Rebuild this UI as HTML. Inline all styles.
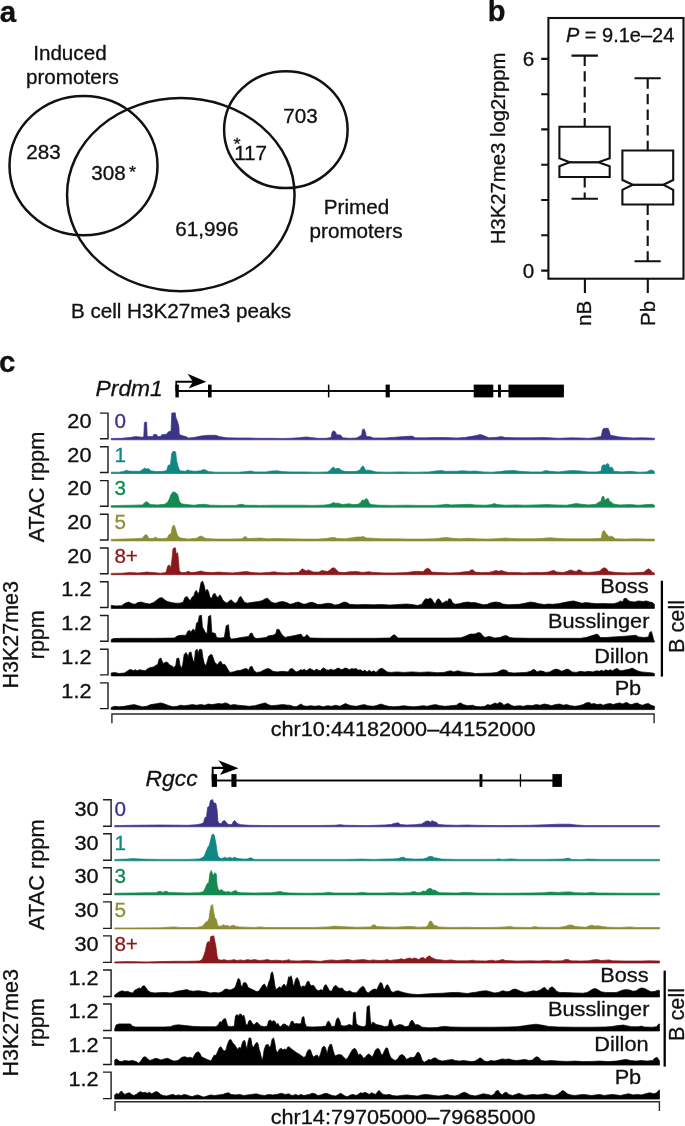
<!DOCTYPE html>
<html lang="en"><head><meta charset="utf-8"><title>Figure</title>
<style>
html,body{margin:0;padding:0;background:#fff;}
svg{display:block;font-family:"Liberation Sans",Arial,Helvetica,sans-serif;}
</style></head><body>
<svg width="685" height="1126" viewBox="0 0 685 1126">
<rect width="685" height="1126" fill="#fff"/>
<g style="opacity:0.999">
<text transform="translate(-0.20,21.50) scale(1.0,1)" text-anchor="start" font-size="29.5" font-weight="bold" font-style="normal" fill="#111" stroke="#111" stroke-width="0.3">a</text>
<text transform="translate(487.80,21.00) scale(1.0,1)" text-anchor="start" font-size="29" font-weight="bold" font-style="normal" fill="#111" stroke="#111" stroke-width="0.3">b</text>
<text transform="translate(-1.00,372.00) scale(1.0,1)" text-anchor="start" font-size="29.5" font-weight="bold" font-style="normal" fill="#111" stroke="#111" stroke-width="0.3">c</text>
<g fill="none" stroke="#111" stroke-width="2.5">
<ellipse cx="83.5" cy="165.65" rx="74.0" ry="69.65"/>
<ellipse cx="180.8" cy="194.65" rx="113.75" ry="96.55"/>
<ellipse cx="285.85" cy="129.7" rx="61.75" ry="58.4"/>
</g>
<text transform="translate(69.90,60.20) scale(1.07,1)" text-anchor="middle" font-size="19.3" font-weight="normal" font-style="normal" fill="#111" stroke="#111" stroke-width="0.3">Induced</text>
<text transform="translate(72.40,84.00) scale(1.07,1)" text-anchor="middle" font-size="19.3" font-weight="normal" font-style="normal" fill="#111" stroke="#111" stroke-width="0.3">promoters</text>
<text transform="translate(43.40,159.40) scale(1.07,1)" text-anchor="middle" font-size="19.3" font-weight="normal" font-style="normal" fill="#111" stroke="#111" stroke-width="0.3">283</text>
<text transform="translate(108.40,179.80) scale(1.07,1)" text-anchor="middle" font-size="19.3" font-weight="normal" font-style="normal" fill="#111" stroke="#111" stroke-width="0.3">308</text>
<text transform="translate(132.60,177.60) scale(1.07,1)" text-anchor="middle" font-size="17" font-weight="normal" font-style="normal" fill="#111" stroke="#111" stroke-width="0.3">*</text>
<text transform="translate(300.40,122.80) scale(1.07,1)" text-anchor="middle" font-size="19.3" font-weight="normal" font-style="normal" fill="#111" stroke="#111" stroke-width="0.3">703</text>
<text transform="translate(250.60,159.80) scale(1.07,1)" text-anchor="middle" font-size="19.3" font-weight="normal" font-style="normal" fill="#111" stroke="#111" stroke-width="0.3">117</text>
<text transform="translate(237.00,149.60) scale(1.07,1)" text-anchor="middle" font-size="17" font-weight="normal" font-style="normal" fill="#111" stroke="#111" stroke-width="0.3">*</text>
<text transform="translate(206.80,235.80) scale(1.07,1)" text-anchor="middle" font-size="19.3" font-weight="normal" font-style="normal" fill="#111" stroke="#111" stroke-width="0.3">61,996</text>
<text transform="translate(356.50,214.00) scale(1.07,1)" text-anchor="middle" font-size="19.3" font-weight="normal" font-style="normal" fill="#111" stroke="#111" stroke-width="0.3">Primed</text>
<text transform="translate(356.00,238.30) scale(1.07,1)" text-anchor="middle" font-size="19.3" font-weight="normal" font-style="normal" fill="#111" stroke="#111" stroke-width="0.3">promoters</text>
<text transform="translate(181.00,317.60) scale(1.07,1)" text-anchor="middle" font-size="19.3" font-weight="normal" font-style="normal" fill="#111" stroke="#111" stroke-width="0.3">B cell H3K27me3 peaks</text>
<g fill="none" stroke="#111" stroke-width="2.1">
<rect x="548.4" y="18.0" width="135.1" height="260.7"/>
<path d="M548.4 270.6H541.2 M548.4 235.3H541.2 M548.4 200.0H541.2 M548.4 164.7H541.2 M548.4 129.4H541.2 M548.4 94.2H541.2 M548.4 58.9H541.2 M584.9 278.7V293.0 M647.8 278.7V293.0"/>
<path d="M559.4 126.8H609.7V158.2L598.3 162.3L609.7 166.2V177H559.4V166.2L569.7 162.3L559.4 158.2Z"/>
<path d="M569.7 162.3H598.3" stroke-width="2.3"/>
<path d="M571.5 55.6H597.9 M571.5 198.8H597.9"/>
<path d="M584.7 55.6V126.8 M584.7 177V198.8" stroke-dasharray="10.4 5.2"/>
<path d="M622.4 150.5H673.2V180L663.3 184.8L673.2 189.8V204.5H622.4V189.8L632.8 184.8L622.4 180Z"/>
<path d="M632.8 184.8H663.3" stroke-width="2.3"/>
<path d="M634.5 78.3H660.7 M634.5 261.3H660.7"/>
<path d="M647.7 78.3V150.5 M647.7 204.5V261.3" stroke-dasharray="10.4 5.2"/>
</g>
<text transform="translate(534.20,65.60) scale(1.07,1)" text-anchor="end" font-size="19.3" font-weight="normal" font-style="normal" fill="#111" stroke="#111" stroke-width="0.3">6</text>
<text transform="translate(534.20,277.60) scale(1.07,1)" text-anchor="end" font-size="19.3" font-weight="normal" font-style="normal" fill="#111" stroke="#111" stroke-width="0.3">0</text>
<text transform="translate(566.00,42.20) scale(1.03576,1)" text-anchor="start" font-size="19.3" font-weight="normal" font-style="normal" fill="#111" stroke="#111" stroke-width="0.3"><tspan font-style="italic">P</tspan> = 9.1e–24</text>
<text transform="translate(505.40,148.40) rotate(-90) scale(1.05288,1)" text-anchor="middle" font-size="19.3" font-weight="normal" font-style="normal" fill="#111" stroke="#111" stroke-width="0.3">H3K27me3 log2rppm</text>
<text transform="translate(590.60,300.80) rotate(-90) scale(1.07,1)" text-anchor="end" font-size="19.3" font-weight="normal" font-style="normal" fill="#111" stroke="#111" stroke-width="0.3">nB</text>
<text transform="translate(654.70,300.80) rotate(-90) scale(1.07,1)" text-anchor="end" font-size="19.3" font-weight="normal" font-style="normal" fill="#111" stroke="#111" stroke-width="0.3">Pb</text>
<path d="M99.9 413.1H108.0V438.8H99.9" fill="none" stroke="#1a1a1a" stroke-width="1.4"/>
<text transform="translate(91.50,427.80) scale(1.125,1)" text-anchor="end" font-size="19.3" font-weight="normal" font-style="normal" fill="#111" stroke="#111" stroke-width="0.3">20</text>
<text transform="translate(114.40,427.80) scale(1.07,1)" text-anchor="start" font-size="19.3" font-weight="normal" font-style="normal" fill="#3b3486" stroke="#3b3486" stroke-width="0.3">0</text>
<path d="M111.2 439.8L111.2 438.5L121.6 438.3L130.0 437.5L135.5 436.6L142.4 437.2L143.8 436.4L144.4 422.5L146.6 421.9L147.2 436.4L152.7 436.6L153.8 434.4L156.6 434.4L157.7 436.6L160.5 436.4L161.9 434.7L166.6 434.2L168.2 431.9L171.0 431.1L171.8 413.1L175.2 412.8L176.0 417.8L177.7 421.9L178.8 426.1L179.3 434.4L182.7 435.8L186.0 436.6L188.2 438.0L193.8 437.5L200.7 436.1L207.6 435.3L215.9 435.3L219.3 436.6L227.0 437.8L238.1 438.0L249.2 438.0L260.3 438.3L271.4 438.3L282.5 438.5L290.0 438.3L298.3 437.8L306.6 436.9L310.8 437.5L317.7 438.3L326.1 438.3L331.1 437.5L332.2 431.9L333.8 430.8L335.5 431.9L336.6 434.7L340.5 435.0L342.7 437.8L349.6 438.3L356.6 438.0L359.3 436.4L361.6 435.3L362.4 429.7L364.1 428.9L365.4 431.9L366.3 436.4L369.1 436.6L371.0 436.9L373.2 438.0L384.3 438.0L395.4 437.2L403.7 436.6L412.0 436.1L415.4 437.8L425.9 437.8L434.2 437.5L445.3 437.5L456.4 438.0L464.7 437.5L473.1 436.1L475.0 435.8L480.6 434.4L484.7 436.1L488.9 437.8L497.2 437.2L501.4 436.6L505.5 437.5L516.6 437.8L530.5 437.8L544.3 437.5L558.2 438.3L572.1 437.8L580.4 438.0L588.7 438.3L594.3 437.8L598.4 436.9L601.2 436.4L602.6 429.7L604.0 428.3L608.1 428.3L609.5 431.7L610.4 435.3L613.7 435.8L619.2 436.9L626.2 437.5L633.1 438.0L641.4 437.8L649.7 438.0L654.4 438.3L654.4 439.8Z" fill="#3b3486" stroke="#3b3486" stroke-width="0.7" stroke-linejoin="round"/>
<path d="M99.9 446.8H108.0V472.5H99.9" fill="none" stroke="#1a1a1a" stroke-width="1.4"/>
<text transform="translate(91.50,461.53) scale(1.125,1)" text-anchor="end" font-size="19.3" font-weight="normal" font-style="normal" fill="#111" stroke="#111" stroke-width="0.3">20</text>
<text transform="translate(114.40,461.53) scale(1.07,1)" text-anchor="start" font-size="19.3" font-weight="normal" font-style="normal" fill="#0f8784" stroke="#0f8784" stroke-width="0.3">1</text>
<path d="M111.2 473.5L111.2 472.2L118.9 472.2L124.4 471.3L126.1 470.2L128.6 471.0L132.7 471.3L139.7 471.3L142.4 469.7L144.7 468.0L146.6 469.1L148.6 468.5L150.8 470.8L156.3 471.6L163.2 471.3L166.6 470.5L168.2 465.2L170.5 464.7L171.6 453.8L173.2 451.1L175.7 451.9L176.6 460.8L178.2 466.9L179.9 470.8L185.4 471.3L187.7 469.9L189.9 470.8L195.2 471.3L200.7 470.8L203.5 469.4L206.2 470.2L208.2 471.6L215.9 472.2L227.0 472.2L238.1 472.2L246.5 471.6L250.6 471.0L254.8 471.9L265.9 471.9L271.4 471.0L277.0 470.8L282.5 471.6L290.0 471.9L303.9 471.9L317.7 472.2L327.4 471.9L330.2 470.2L331.6 468.5L333.0 466.9L334.4 468.0L335.8 469.1L337.1 468.3L339.4 468.5L341.0 470.2L344.1 471.3L349.6 471.6L356.6 471.3L359.9 469.9L361.6 466.9L362.9 465.8L364.3 467.4L365.4 470.2L369.1 470.2L371.8 470.8L376.0 471.9L387.1 472.2L400.9 471.9L414.8 472.2L428.7 471.9L435.6 471.0L441.2 470.5L445.3 471.3L456.4 471.3L462.0 470.8L470.3 471.3L475.0 471.0L483.3 471.9L491.6 472.2L500.0 471.6L505.5 470.8L513.8 470.5L519.4 471.3L530.5 471.9L541.6 471.9L545.7 470.5L549.9 471.3L558.2 471.9L566.5 471.0L572.1 470.5L580.4 471.0L588.7 471.9L597.0 471.9L601.2 471.0L602.0 465.8L604.0 464.7L605.9 465.2L607.0 463.6L608.7 464.1L609.5 468.0L611.5 466.9L612.9 468.5L613.7 471.3L622.0 471.9L630.3 471.3L638.6 472.2L647.0 471.9L649.2 470.5L651.4 469.9L653.9 471.0L654.4 472.2L654.4 473.5Z" fill="#0f8784" stroke="#0f8784" stroke-width="0.7" stroke-linejoin="round"/>
<path d="M99.9 480.6H108.0V506.3H99.9" fill="none" stroke="#1a1a1a" stroke-width="1.4"/>
<text transform="translate(91.50,495.26) scale(1.125,1)" text-anchor="end" font-size="19.3" font-weight="normal" font-style="normal" fill="#111" stroke="#111" stroke-width="0.3">20</text>
<text transform="translate(114.40,495.26) scale(1.07,1)" text-anchor="start" font-size="19.3" font-weight="normal" font-style="normal" fill="#138a50" stroke="#138a50" stroke-width="0.3">3</text>
<path d="M111.2 507.2L111.2 505.7L121.6 505.4L132.7 505.2L142.4 504.9L144.7 502.7L146.6 501.6L148.6 502.9L150.2 504.6L157.7 504.9L164.6 504.3L167.4 502.4L169.3 499.1L171.0 494.6L173.2 491.8L176.0 492.9L177.7 494.6L179.3 501.0L181.3 503.8L186.8 504.6L193.8 505.2L199.3 504.6L204.8 504.3L210.4 505.2L221.5 505.4L235.4 505.4L239.5 504.6L242.3 504.3L245.1 505.2L260.3 505.4L277.0 505.2L290.0 505.2L301.1 505.2L312.2 505.4L323.3 505.2L328.8 504.6L331.1 503.8L333.8 502.4L335.8 503.5L337.7 502.9L339.9 503.8L342.7 504.6L346.9 504.0L349.6 503.8L352.4 504.6L358.0 504.3L360.7 502.4L362.7 499.6L364.1 501.0L365.7 498.5L367.7 499.6L369.1 502.9L371.0 504.6L378.8 505.2L392.6 505.4L406.5 505.2L420.4 505.4L434.2 505.4L441.2 504.9L446.7 504.3L450.9 504.9L462.0 504.6L470.3 504.3L475.0 504.9L486.1 505.2L491.6 504.6L494.4 503.5L497.2 504.6L505.5 505.2L516.6 504.9L524.9 505.2L536.0 504.9L547.1 504.6L555.4 504.9L566.5 505.2L572.1 504.3L576.2 503.5L581.8 504.3L588.7 504.9L595.7 504.3L598.4 502.4L601.2 501.0L602.0 496.8L603.7 496.3L604.8 500.2L606.5 499.1L608.1 497.9L609.5 501.0L611.5 502.4L613.7 504.0L619.2 504.9L630.3 504.6L638.6 505.2L647.0 504.6L652.5 504.3L654.4 505.2L654.4 507.2Z" fill="#138a50" stroke="#138a50" stroke-width="0.7" stroke-linejoin="round"/>
<path d="M99.9 514.3H108.0V540.0H99.9" fill="none" stroke="#1a1a1a" stroke-width="1.4"/>
<text transform="translate(91.50,528.99) scale(1.125,1)" text-anchor="end" font-size="19.3" font-weight="normal" font-style="normal" fill="#111" stroke="#111" stroke-width="0.3">20</text>
<text transform="translate(114.40,528.99) scale(1.07,1)" text-anchor="start" font-size="19.3" font-weight="normal" font-style="normal" fill="#8d8d36" stroke="#8d8d36" stroke-width="0.3">5</text>
<path d="M111.2 540.9L111.2 539.4L121.6 539.1L132.7 538.8L142.4 538.3L144.4 535.5L146.1 534.4L147.7 536.0L148.8 538.5L153.5 538.3L155.5 537.1L157.2 538.3L161.9 538.8L167.4 538.0L168.8 534.9L171.0 533.8L172.4 526.6L174.1 524.9L175.4 528.3L176.6 532.7L177.9 536.0L179.9 537.7L182.7 538.3L188.2 539.1L196.5 538.3L199.3 536.6L201.5 536.0L203.7 537.4L206.2 538.5L215.9 539.1L229.8 539.1L242.3 538.8L244.2 536.9L245.9 536.6L247.6 538.5L254.8 538.3L260.3 538.0L267.3 538.8L277.0 538.5L285.3 538.8L290.0 538.8L303.9 539.1L317.7 539.1L326.1 538.5L330.2 537.7L334.4 537.4L337.1 538.5L345.5 538.8L352.4 537.7L356.6 537.1L360.7 536.9L363.5 536.6L366.3 538.0L373.2 538.3L381.5 538.8L395.4 538.8L409.3 539.1L423.1 539.1L434.2 538.8L441.2 538.0L446.7 537.4L452.3 538.3L459.2 538.8L467.5 538.3L473.1 538.5L475.0 538.8L488.9 539.1L500.0 538.5L505.5 538.0L511.1 538.5L522.1 538.8L533.2 538.8L543.0 538.3L549.9 537.7L556.8 538.3L566.5 538.8L580.4 538.8L591.5 538.8L601.2 538.3L602.6 531.6L604.3 530.5L605.9 533.3L607.6 534.9L609.0 537.1L610.9 536.0L613.1 537.1L615.1 538.8L624.8 539.1L635.9 538.8L647.0 539.1L654.4 539.1L654.4 540.9Z" fill="#8d8d36" stroke="#8d8d36" stroke-width="0.7" stroke-linejoin="round"/>
<path d="M99.9 548.0H108.0V573.7H99.9" fill="none" stroke="#1a1a1a" stroke-width="1.4"/>
<text transform="translate(91.50,562.72) scale(1.125,1)" text-anchor="end" font-size="19.3" font-weight="normal" font-style="normal" fill="#111" stroke="#111" stroke-width="0.3">20</text>
<text transform="translate(114.40,562.72) scale(1.07,1)" text-anchor="start" font-size="19.3" font-weight="normal" font-style="normal" fill="#8a191d" stroke="#8a191d" stroke-width="0.3">8+</text>
<path d="M111.2 574.7L111.2 573.4L121.6 573.2L130.0 572.6L138.3 572.9L146.6 572.1L153.5 572.6L160.5 573.2L166.0 572.6L167.7 566.0L169.3 564.9L170.7 567.9L171.8 561.0L173.0 548.5L175.4 547.7L176.3 554.1L177.7 552.7L178.5 561.0L179.3 570.7L181.3 572.6L185.4 572.4L188.2 571.3L191.0 572.6L196.5 572.1L200.7 571.0L204.8 572.1L211.8 572.6L218.7 572.1L224.3 572.4L232.6 572.9L240.9 572.1L246.5 571.5L252.0 572.6L260.3 572.9L268.6 572.4L274.2 571.8L278.4 572.6L288.1 572.9L290.0 572.6L298.3 572.6L300.5 570.4L302.5 568.8L304.4 569.9L306.1 571.0L308.0 569.9L310.8 571.0L313.6 572.1L319.1 572.1L321.9 570.4L324.7 571.0L327.4 571.5L330.2 569.9L332.2 567.9L334.4 567.9L336.6 569.9L338.5 572.1L344.1 572.6L349.6 571.8L356.6 571.5L362.1 572.4L369.1 571.8L373.2 572.4L384.3 572.9L395.4 572.9L406.5 572.6L412.0 571.8L417.6 571.3L423.1 571.8L425.4 569.3L427.6 568.2L429.8 569.3L431.5 572.1L439.8 572.6L450.9 572.9L459.2 572.6L464.7 571.8L468.9 571.5L470.9 569.9L473.1 569.9L475.0 572.1L480.6 572.6L488.9 572.4L493.0 571.5L495.8 570.4L498.6 571.3L501.4 570.4L504.1 571.5L508.3 572.6L516.6 572.6L524.9 572.9L533.2 572.4L541.6 572.6L548.5 572.1L551.3 571.0L554.0 570.4L556.8 572.1L563.8 572.4L567.9 571.0L570.7 569.9L573.5 571.0L576.2 571.5L578.2 569.9L580.4 569.9L582.6 572.1L588.7 572.4L595.7 571.8L599.8 571.0L602.0 568.8L604.3 567.7L606.5 568.8L608.7 571.5L616.5 572.6L627.5 572.9L638.6 572.6L644.2 572.1L646.4 569.9L648.6 568.8L650.9 570.4L652.5 572.6L654.4 572.9L654.4 574.7Z" fill="#8a191d" stroke="#8a191d" stroke-width="0.7" stroke-linejoin="round"/>
<path d="M99.9 581.8H108.0V607.5H99.9" fill="none" stroke="#1a1a1a" stroke-width="1.4"/>
<text transform="translate(91.50,596.45) scale(1.125,1)" text-anchor="end" font-size="19.3" font-weight="normal" font-style="normal" fill="#111" stroke="#111" stroke-width="0.3">1.2</text>
<text transform="translate(648.60,593.20) scale(1.07,1)" text-anchor="end" font-size="20.3" font-weight="normal" font-style="normal" fill="#111" stroke="#111" stroke-width="0.3">Boss</text>
<path d="M111.2 608.4L111.2 605.4L116.1 605.9L121.6 605.7L125.0 603.2L128.6 602.0L132.2 603.7L135.0 604.3L137.7 602.6L141.1 602.0L145.2 603.2L149.4 604.0L153.5 602.6L156.3 600.4L159.1 598.2L161.9 597.6L164.6 599.8L167.4 601.5L171.6 602.6L175.7 603.2L179.9 603.2L183.2 602.0L184.9 597.6L187.1 596.5L188.8 599.3L190.4 600.4L192.1 597.1L193.8 595.9L195.2 591.5L196.5 590.4L197.9 594.3L199.3 591.5L201.0 582.6L202.6 581.0L204.3 586.0L205.4 591.5L207.1 589.3L208.5 591.5L209.8 596.5L211.5 598.7L213.2 594.3L214.8 593.2L216.5 596.5L218.2 597.6L219.8 594.8L221.2 596.5L222.6 599.8L224.8 602.0L227.0 603.2L229.3 600.9L231.2 599.8L233.2 602.0L235.4 603.2L237.6 601.5L239.2 597.6L240.9 596.5L242.6 599.3L244.2 602.0L247.0 603.2L250.6 602.6L254.8 602.0L258.9 601.5L262.6 600.4L265.3 598.7L267.5 598.2L269.8 600.4L272.0 602.6L275.6 603.2L279.2 602.0L282.5 601.5L286.7 602.6L290.0 604.3L292.8 603.7L295.6 602.6L298.3 602.0L301.1 603.2L303.9 604.3L306.6 603.7L309.4 602.6L312.2 602.3L315.0 603.2L317.7 604.5L321.9 604.3L324.7 603.7L328.3 603.2L331.6 603.7L334.4 605.1L338.5 604.5L341.3 603.2L344.1 602.0L346.9 602.6L349.6 604.3L356.6 604.8L364.9 604.5L373.2 604.8L381.5 604.5L389.9 605.1L398.2 604.5L406.5 604.0L412.0 604.5L417.6 605.4L421.8 604.3L424.0 600.4L425.9 598.7L428.1 599.3L430.1 598.2L432.0 599.3L433.7 602.6L435.3 603.7L437.0 599.8L438.7 598.7L440.3 600.4L442.0 603.2L443.9 602.6L445.9 600.9L447.6 601.5L448.9 598.7L450.9 599.3L452.5 602.6L455.0 604.3L459.2 603.7L463.4 602.6L467.5 602.0L471.7 602.6L475.0 602.6L479.2 603.7L483.3 604.8L487.5 604.3L491.6 602.6L495.8 602.0L500.0 602.6L502.7 604.0L508.3 604.8L513.8 604.5L519.4 604.3L524.9 603.2L530.5 602.0L534.6 602.6L538.8 603.7L544.3 604.5L548.5 604.0L552.7 604.3L558.2 603.7L563.8 602.6L569.3 601.5L573.5 600.9L577.6 602.0L581.8 603.2L586.0 602.6L591.5 603.2L597.0 603.7L602.6 603.4L608.1 603.7L613.7 603.7L617.9 602.6L620.6 600.9L622.6 602.0L624.0 598.7L626.2 598.2L628.1 600.4L630.3 601.5L634.5 602.0L638.6 600.9L642.8 601.5L646.4 600.9L649.7 602.0L652.5 602.6L654.4 604.3L654.4 608.4Z" fill="#000" stroke="#000" stroke-width="0.7" stroke-linejoin="round"/>
<path d="M99.9 615.5H108.0V641.2H99.9" fill="none" stroke="#1a1a1a" stroke-width="1.4"/>
<text transform="translate(91.50,630.18) scale(1.125,1)" text-anchor="end" font-size="19.3" font-weight="normal" font-style="normal" fill="#111" stroke="#111" stroke-width="0.3">1.2</text>
<text transform="translate(649.40,627.80) scale(1.07,1)" text-anchor="end" font-size="20.3" font-weight="normal" font-style="normal" fill="#111" stroke="#111" stroke-width="0.3">Busslinger</text>
<path d="M111.2 642.1L111.2 639.7L113.3 638.6L121.6 638.3L138.3 638.3L154.9 638.3L174.3 638.0L177.7 635.8L181.3 635.3L186.0 635.3L187.7 631.4L189.6 630.3L191.0 632.5L192.4 629.7L193.8 629.2L195.2 631.9L196.5 623.1L198.2 621.9L199.3 615.8L201.5 615.3L202.4 626.9L203.7 629.2L205.4 632.5L207.1 633.6L208.5 616.4L210.7 615.3L211.8 632.5L213.7 633.0L215.4 633.6L216.5 637.5L220.1 638.0L224.3 637.5L226.2 625.8L228.4 624.7L229.8 636.9L231.2 639.1L235.4 638.6L240.9 637.5L245.1 636.9L248.7 636.4L250.1 633.6L252.0 633.0L253.7 636.9L256.2 638.6L261.7 638.0L265.9 637.5L268.6 635.8L272.8 635.3L275.6 634.1L277.0 629.2L279.2 629.7L280.9 633.0L282.5 635.3L285.3 637.5L288.6 636.4L290.0 636.4L295.6 635.3L301.1 634.1L302.8 636.9L305.0 636.9L306.6 634.7L308.3 635.8L310.0 638.0L323.3 638.3L345.5 638.3L373.2 638.3L389.9 638.0L392.1 635.8L394.3 634.7L396.5 636.4L398.2 638.0L414.8 638.0L434.2 638.0L450.9 638.0L460.6 637.8L464.7 636.4L470.3 634.1L475.0 634.1L478.3 632.5L480.6 633.0L482.8 635.8L485.0 637.5L488.9 636.4L491.6 636.9L494.4 638.0L500.0 637.5L504.1 635.8L506.9 635.8L509.7 637.5L513.8 638.0L530.5 638.3L558.2 638.3L580.4 638.3L586.0 637.5L591.5 635.8L597.0 634.1L598.7 635.3L600.4 637.5L605.4 637.5L613.7 636.9L622.0 636.4L630.3 635.8L635.9 635.3L638.6 636.9L644.2 637.5L648.4 636.9L649.7 632.5L651.4 631.4L652.5 635.3L653.9 640.8L654.4 640.9L654.4 642.1Z" fill="#000" stroke="#000" stroke-width="0.7" stroke-linejoin="round"/>
<path d="M99.9 649.2H108.0V674.9H99.9" fill="none" stroke="#1a1a1a" stroke-width="1.4"/>
<text transform="translate(91.50,663.91) scale(1.125,1)" text-anchor="end" font-size="19.3" font-weight="normal" font-style="normal" fill="#111" stroke="#111" stroke-width="0.3">1.2</text>
<text transform="translate(648.60,663.30) scale(1.07,1)" text-anchor="end" font-size="20.3" font-weight="normal" font-style="normal" fill="#111" stroke="#111" stroke-width="0.3">Dillon</text>
<path d="M111.2 675.9L111.2 673.0L114.7 672.4L118.9 673.5L124.4 673.0L127.2 671.3L129.4 669.7L131.6 669.7L133.3 670.8L135.0 669.7L137.2 670.8L139.4 669.7L142.2 670.2L145.2 670.8L148.0 668.5L150.8 667.4L153.5 666.9L155.8 665.2L157.7 664.7L159.1 659.1L161.0 658.0L162.4 661.9L163.8 663.6L165.5 661.9L167.7 662.4L169.3 664.7L171.6 665.8L173.8 667.4L175.7 665.8L176.8 658.6L178.8 658.0L179.9 664.7L181.3 668.5L182.7 664.7L184.1 654.7L186.0 652.5L187.4 654.7L188.2 657.4L189.3 652.5L191.0 651.9L192.1 656.9L193.2 660.8L194.3 661.9L195.4 650.8L197.1 649.1L198.2 654.7L198.8 650.8L199.9 649.1L201.8 649.7L202.9 657.4L204.3 663.6L206.0 665.8L207.3 661.3L208.7 656.3L210.4 654.7L212.1 654.7L213.2 658.0L214.6 661.9L215.9 663.6L217.6 664.7L219.3 661.9L220.9 661.3L222.6 664.7L224.3 664.1L225.9 665.8L227.6 669.1L229.8 672.4L233.2 671.9L236.8 670.8L240.9 670.2L243.7 669.1L246.5 668.5L248.7 670.2L250.1 666.9L252.0 666.3L253.7 670.2L256.2 672.4L260.3 671.9L264.5 669.7L267.3 668.5L270.0 669.1L272.8 671.3L277.0 671.9L282.5 671.3L288.1 671.9L290.0 669.1L292.2 668.5L294.2 670.2L296.1 671.9L298.3 671.3L300.5 669.7L302.5 670.2L304.4 669.1L306.1 670.8L308.0 669.7L310.0 668.5L312.2 669.7L314.4 670.8L316.4 669.1L318.3 670.2L320.5 670.8L322.2 668.5L323.8 668.0L326.1 669.7L328.8 670.2L331.1 669.1L333.0 670.2L334.9 669.7L337.1 668.5L338.8 668.0L341.0 669.7L343.3 669.1L344.9 668.0L347.1 668.5L349.4 669.7L351.6 668.5L353.8 669.1L356.0 668.5L358.2 670.2L360.4 669.7L362.7 671.3L364.9 670.2L367.1 671.9L369.3 670.2L371.6 671.9L373.8 670.8L376.0 672.4L378.2 670.2L380.4 668.5L382.6 668.5L384.9 670.2L387.1 671.9L391.2 672.4L396.8 671.9L403.7 672.4L412.0 671.9L420.4 672.4L428.7 671.9L437.0 672.7L443.9 672.4L448.1 671.3L450.9 670.8L453.6 671.9L457.8 670.8L462.0 671.9L467.5 672.4L473.1 673.0L475.0 673.5L483.3 673.3L491.6 673.0L497.2 672.4L500.0 670.8L502.7 669.7L506.1 670.2L508.8 672.4L513.8 673.0L519.4 672.7L526.3 672.4L530.5 671.3L532.7 669.7L534.9 669.7L537.1 671.9L540.2 670.8L543.0 671.3L545.7 672.4L549.9 671.9L552.7 670.2L556.0 669.1L558.8 669.7L561.5 671.3L564.3 670.2L567.1 669.1L569.9 670.2L572.1 671.9L576.2 672.4L580.4 671.3L584.6 671.9L588.7 671.3L592.9 671.9L596.5 670.8L599.3 671.3L601.5 670.2L603.7 671.3L605.9 669.7L608.1 670.8L610.4 669.7L612.6 670.8L615.1 669.1L617.3 668.5L619.2 670.2L622.0 670.8L626.2 669.7L629.8 669.1L632.0 668.0L634.2 669.1L637.3 670.8L641.4 671.9L647.0 672.4L652.5 673.0L654.4 673.5L654.4 675.9Z" fill="#000" stroke="#000" stroke-width="0.7" stroke-linejoin="round"/>
<path d="M99.9 682.9H108.0V708.6H99.9" fill="none" stroke="#1a1a1a" stroke-width="1.4"/>
<text transform="translate(91.50,697.64) scale(1.125,1)" text-anchor="end" font-size="19.3" font-weight="normal" font-style="normal" fill="#111" stroke="#111" stroke-width="0.3">1.2</text>
<text transform="translate(641.20,695.20) scale(1.07,1)" text-anchor="end" font-size="20.3" font-weight="normal" font-style="normal" fill="#111" stroke="#111" stroke-width="0.3">Pb</text>
<path d="M111.2 709.6L111.2 707.4L114.7 706.3L118.9 706.8L124.4 706.3L130.0 705.2L134.1 704.6L138.3 705.7L142.4 706.8L146.6 706.3L150.8 704.6L154.9 704.0L157.7 703.5L160.5 702.9L163.2 703.5L166.0 704.6L169.3 705.7L173.0 706.8L177.1 706.3L180.4 705.2L184.1 705.7L188.2 705.2L192.4 704.6L196.5 705.2L200.7 704.6L204.8 705.2L208.2 704.0L211.8 704.6L215.4 704.0L218.7 703.5L222.1 704.0L224.8 702.9L227.6 703.5L230.4 705.2L234.0 704.6L238.1 705.2L243.7 705.7L249.2 706.3L254.8 705.7L258.9 704.6L262.6 703.5L265.3 702.9L268.1 704.6L271.4 705.7L277.0 705.2L282.5 704.6L288.1 705.2L290.0 705.2L292.8 706.3L296.1 706.8L298.9 705.2L301.1 704.0L303.3 705.7L306.6 706.3L310.8 705.7L315.0 706.3L319.1 705.7L323.3 706.8L327.4 705.7L331.6 706.3L335.8 705.2L339.9 706.3L343.3 704.6L345.5 703.5L347.7 704.6L351.0 705.7L356.6 706.3L360.7 705.2L364.3 704.6L367.7 705.7L373.2 706.3L377.4 705.2L381.0 704.0L384.3 705.2L388.5 706.3L394.0 706.8L399.6 706.3L403.7 705.7L407.9 706.3L413.4 706.8L419.0 706.3L423.1 705.7L427.3 706.3L431.5 705.2L435.6 704.6L439.8 705.7L445.3 706.3L450.9 705.7L456.4 705.2L458.6 703.5L460.9 702.9L463.1 704.6L467.5 705.7L473.1 705.2L475.0 706.3L480.6 706.8L484.7 706.3L487.5 704.6L490.3 705.2L493.0 704.0L495.0 702.9L497.2 704.0L499.4 702.4L501.6 702.9L503.9 705.2L506.1 704.0L508.3 703.5L511.1 705.2L513.8 706.3L519.4 705.7L523.5 706.3L527.7 705.2L531.9 705.7L536.0 704.6L540.2 705.2L544.3 704.0L547.7 704.6L551.3 705.7L555.4 704.6L559.6 704.0L563.2 705.2L566.5 704.6L570.7 705.7L574.9 706.3L579.0 705.7L583.2 704.6L586.0 702.9L589.3 702.4L591.5 704.0L594.3 703.5L597.0 704.6L600.4 704.0L603.1 705.2L606.8 704.0L610.4 703.5L613.1 704.6L616.5 703.5L619.8 702.9L622.6 704.0L624.8 702.9L627.0 702.4L629.2 704.0L631.7 704.6L634.5 703.5L637.3 702.9L640.0 704.6L642.8 705.2L645.6 704.0L648.4 703.5L651.1 705.2L654.4 706.3L654.4 709.6Z" fill="#000" stroke="#000" stroke-width="0.7" stroke-linejoin="round"/>
<path d="M111.9 723.2V714.0H654.1V723.2" fill="none" stroke="#2a2a2a" stroke-width="1.4"/>
<text transform="translate(403.10,736.20) scale(1.121,1)" text-anchor="middle" font-size="19.3" font-weight="normal" font-style="normal" fill="#111" stroke="#111" stroke-width="0.3">chr10:44182000–44152000</text>
<text transform="translate(43.70,487.00) rotate(-90) scale(1,1)" text-anchor="middle" font-size="21.8" font-weight="normal" font-style="normal" fill="#111" stroke="#111" stroke-width="0.3">ATAC rppm</text>
<text transform="translate(17.90,634.80) rotate(-90) scale(1,1)" text-anchor="middle" font-size="21.5" font-weight="normal" font-style="normal" fill="#111" stroke="#111" stroke-width="0.3">H3K27me3</text>
<text transform="translate(43.60,634.80) rotate(-90) scale(1,1)" text-anchor="middle" font-size="21.5" font-weight="normal" font-style="normal" fill="#111" stroke="#111" stroke-width="0.3">rppm</text>
<path d="M661.9 580.7V676.6" stroke="#000" stroke-width="2.3" fill="none"/>
<text transform="translate(683.70,626.50) rotate(-90) scale(1,1)" text-anchor="middle" font-size="21.7" font-weight="normal" font-style="normal" fill="#111" stroke="#111" stroke-width="0.3">B cell</text>
<path d="M103.0 799.7H111.1V826.2H103.0" fill="none" stroke="#1a1a1a" stroke-width="1.4"/>
<text transform="translate(98.70,815.90) scale(1.125,1)" text-anchor="end" font-size="19.3" font-weight="normal" font-style="normal" fill="#111" stroke="#111" stroke-width="0.3">30</text>
<text transform="translate(114.40,815.90) scale(1.07,1)" text-anchor="start" font-size="19.3" font-weight="normal" font-style="normal" fill="#3b3486" stroke="#3b3486" stroke-width="0.3">0</text>
<path d="M114.7 826.8L114.7 825.6L132.7 825.3L160.5 825.0L188.2 825.3L196.5 824.7L200.7 823.9L203.5 822.8L204.8 817.8L206.5 816.7L207.6 807.3L209.3 806.2L210.4 800.6L212.6 799.5L213.7 802.8L215.9 803.4L217.1 810.0L217.9 821.1L219.3 823.4L221.5 823.4L222.9 821.1L224.8 820.6L226.5 822.8L228.4 824.5L232.0 824.5L233.2 821.7L234.8 820.6L236.5 822.8L238.1 823.9L240.9 824.7L249.2 825.3L271.4 825.6L290.0 825.6L312.2 825.6L334.4 825.3L339.9 824.7L345.5 825.3L367.7 825.6L384.3 825.0L391.2 824.5L394.0 823.4L398.2 822.8L400.4 824.5L406.5 825.0L414.8 824.7L421.8 823.9L424.5 822.2L426.5 821.1L428.7 821.1L430.4 822.2L432.0 820.6L434.2 821.7L436.4 822.2L438.4 824.5L445.3 825.0L456.4 825.3L467.5 825.0L475.0 825.3L502.7 825.6L530.5 825.3L547.1 824.7L558.2 824.2L569.3 824.2L576.2 825.0L586.0 825.6L613.7 825.6L641.4 825.6L659.5 825.6L659.5 826.8Z" fill="#3b3486" stroke="#3b3486" stroke-width="0.7" stroke-linejoin="round"/>
<path d="M103.0 833.8H111.1V860.2H103.0" fill="none" stroke="#1a1a1a" stroke-width="1.4"/>
<text transform="translate(98.70,849.66) scale(1.125,1)" text-anchor="end" font-size="19.3" font-weight="normal" font-style="normal" fill="#111" stroke="#111" stroke-width="0.3">30</text>
<text transform="translate(114.40,849.66) scale(1.07,1)" text-anchor="start" font-size="19.3" font-weight="normal" font-style="normal" fill="#0f8784" stroke="#0f8784" stroke-width="0.3">1</text>
<path d="M114.7 860.8L114.7 859.4L127.2 859.1L132.7 858.6L141.1 859.1L160.5 859.4L188.2 859.4L199.3 858.9L202.1 857.8L204.3 856.1L206.0 851.6L207.6 847.8L209.3 845.0L210.4 841.1L211.8 835.0L213.7 833.9L214.8 837.8L215.9 843.3L217.1 851.6L218.2 856.6L220.1 858.3L222.9 858.3L224.3 857.2L225.9 857.8L227.6 858.3L229.3 857.2L230.9 857.8L232.6 858.3L234.3 857.2L235.9 857.8L238.1 858.6L243.7 859.1L247.8 858.9L249.8 857.8L252.0 858.3L254.2 859.4L271.4 859.4L290.0 859.4L317.7 859.4L345.5 859.4L362.1 859.1L373.2 859.4L384.3 859.1L392.6 858.9L398.2 858.6L400.9 857.5L403.7 857.2L405.9 858.6L414.8 859.1L423.1 858.9L427.3 857.8L428.7 856.6L432.0 856.4L434.2 857.8L438.4 858.3L441.2 859.1L456.4 859.4L475.0 859.4L494.4 859.4L498.6 858.9L502.7 859.4L511.1 858.9L519.4 859.4L544.3 859.4L563.8 859.1L566.5 858.3L569.3 858.3L571.5 859.4L580.4 859.7L588.7 859.1L599.8 859.4L627.5 859.4L659.5 859.4L659.5 860.8Z" fill="#0f8784" stroke="#0f8784" stroke-width="0.7" stroke-linejoin="round"/>
<path d="M103.0 867.8H111.1V894.3H103.0" fill="none" stroke="#1a1a1a" stroke-width="1.4"/>
<text transform="translate(98.70,883.42) scale(1.125,1)" text-anchor="end" font-size="19.3" font-weight="normal" font-style="normal" fill="#111" stroke="#111" stroke-width="0.3">30</text>
<text transform="translate(114.40,883.42) scale(1.07,1)" text-anchor="start" font-size="19.3" font-weight="normal" font-style="normal" fill="#138a50" stroke="#138a50" stroke-width="0.3">3</text>
<path d="M114.7 894.9L114.7 893.2L132.7 893.0L146.6 892.7L156.3 892.7L158.3 891.6L160.5 891.3L162.7 892.4L164.6 891.6L166.6 891.3L168.8 892.4L177.1 892.7L188.2 893.0L199.3 892.7L203.5 891.6L205.4 887.7L207.1 883.8L208.7 882.7L209.8 873.8L211.2 870.5L212.6 873.8L213.7 875.5L214.8 872.7L216.2 873.8L217.1 884.9L218.2 889.4L219.8 890.5L221.5 889.4L223.2 891.0L225.7 892.1L228.4 891.6L231.2 892.4L234.0 891.0L235.9 890.5L237.6 892.1L240.9 892.7L254.8 893.0L271.4 892.7L277.0 891.9L280.3 891.6L283.9 892.4L290.0 893.0L306.6 893.2L323.3 893.0L328.8 892.4L334.4 893.0L356.6 893.0L362.1 892.4L367.7 893.0L384.3 893.0L392.6 892.7L400.9 893.0L409.3 892.7L412.0 891.9L414.8 891.6L417.0 892.7L420.4 892.4L423.1 891.0L425.4 891.6L427.3 889.4L429.5 888.3L431.5 888.8L433.1 890.5L434.8 889.9L437.0 891.6L439.8 892.7L456.4 893.0L464.7 892.4L473.1 892.7L475.0 893.0L502.7 893.2L530.5 893.0L544.3 892.7L549.9 892.1L558.2 892.4L566.5 891.9L570.7 891.9L574.9 892.7L586.0 893.0L591.5 892.4L597.0 893.0L627.5 893.2L659.5 893.2L659.5 894.9Z" fill="#138a50" stroke="#138a50" stroke-width="0.7" stroke-linejoin="round"/>
<path d="M103.0 901.9H111.1V928.4H103.0" fill="none" stroke="#1a1a1a" stroke-width="1.4"/>
<text transform="translate(98.70,917.18) scale(1.125,1)" text-anchor="end" font-size="19.3" font-weight="normal" font-style="normal" fill="#111" stroke="#111" stroke-width="0.3">30</text>
<text transform="translate(114.40,917.18) scale(1.07,1)" text-anchor="start" font-size="19.3" font-weight="normal" font-style="normal" fill="#8d8d36" stroke="#8d8d36" stroke-width="0.3">5</text>
<path d="M114.7 928.9L114.7 927.9L132.7 927.9L160.5 927.7L168.8 927.2L174.3 926.9L179.9 927.5L196.5 927.5L202.1 926.4L204.3 924.1L206.0 921.9L207.6 921.4L209.0 918.6L210.1 910.3L211.2 905.3L212.6 904.7L213.7 911.9L214.8 917.5L216.5 919.7L217.6 925.2L219.3 926.4L221.5 925.8L223.7 924.7L225.4 925.8L227.0 925.2L229.3 926.4L231.5 925.8L233.7 925.2L235.9 926.4L239.5 926.9L246.5 927.2L254.8 927.5L260.3 926.9L265.9 927.5L282.5 927.5L290.0 927.5L312.2 927.5L328.8 926.9L334.4 926.1L339.9 926.6L356.6 927.2L370.4 926.9L372.7 925.2L374.6 924.7L376.5 926.4L384.3 926.9L395.4 927.2L406.5 926.6L412.0 926.4L417.6 927.2L425.9 926.9L428.1 925.2L429.2 921.9L430.9 920.8L432.6 923.0L433.7 925.2L436.4 925.8L438.7 926.9L450.9 927.5L467.5 927.2L475.0 927.5L491.6 927.5L505.5 926.9L509.7 926.4L513.8 927.2L530.5 927.5L534.6 926.6L538.8 927.2L558.2 927.5L565.1 926.4L569.3 925.0L572.6 925.2L575.4 926.6L586.0 927.2L589.3 925.8L592.0 925.2L594.8 926.1L598.4 925.8L602.6 926.6L608.1 927.2L619.2 927.5L630.3 926.9L635.9 927.5L659.5 927.5L659.5 928.9Z" fill="#8d8d36" stroke="#8d8d36" stroke-width="0.7" stroke-linejoin="round"/>
<path d="M103.0 935.9H111.1V962.4H103.0" fill="none" stroke="#1a1a1a" stroke-width="1.4"/>
<text transform="translate(98.70,950.94) scale(1.125,1)" text-anchor="end" font-size="19.3" font-weight="normal" font-style="normal" fill="#111" stroke="#111" stroke-width="0.3">30</text>
<text transform="translate(114.40,950.94) scale(1.07,1)" text-anchor="start" font-size="19.3" font-weight="normal" font-style="normal" fill="#8a191d" stroke="#8a191d" stroke-width="0.3">8+</text>
<path d="M114.7 963.0L114.7 961.9L127.2 961.6L146.6 961.9L160.5 961.6L174.3 961.3L188.2 961.3L199.3 961.0L202.1 959.6L203.7 956.0L205.4 950.5L206.8 943.5L208.2 941.3L209.6 943.0L210.7 936.6L213.7 935.8L214.8 940.8L215.9 946.3L217.1 956.0L218.2 959.6L221.5 960.2L224.3 959.6L227.0 960.5L231.2 960.2L234.0 959.6L236.8 960.5L240.9 959.9L243.7 960.5L247.8 959.6L250.6 960.2L254.8 959.6L258.9 960.5L263.1 960.2L267.3 959.6L271.4 960.5L277.0 960.2L282.5 960.8L286.7 960.2L289.4 959.6L290.0 960.8L298.3 961.0L306.6 960.5L315.0 961.0L320.5 961.3L326.1 960.5L331.6 959.9L337.1 960.5L344.1 959.9L348.2 959.6L352.4 960.5L358.0 959.9L363.5 959.6L369.1 960.5L373.2 959.9L378.8 960.5L384.3 960.2L387.1 959.6L389.9 960.5L394.0 959.9L398.2 959.6L400.9 958.8L404.3 959.6L407.1 958.5L409.8 958.0L412.0 959.1L414.3 958.0L416.5 958.5L418.7 959.6L420.9 958.0L423.1 957.4L425.4 959.1L427.3 956.9L429.5 955.8L431.5 957.4L433.7 958.5L436.4 959.6L441.2 959.9L445.3 960.5L450.9 959.9L456.4 960.8L467.5 960.8L473.1 960.2L475.0 960.8L486.1 961.0L491.6 960.2L495.8 961.0L500.0 960.2L502.7 959.4L505.5 960.5L516.6 961.0L530.5 960.8L538.8 961.0L547.1 960.5L552.7 961.0L562.4 960.8L565.1 959.6L567.9 959.4L570.7 960.8L580.4 961.0L588.7 960.8L592.9 959.9L597.0 959.6L601.2 960.5L605.4 960.2L609.5 959.9L612.3 960.8L624.8 961.0L641.4 961.0L649.7 960.8L659.5 961.0L659.5 963.0Z" fill="#8a191d" stroke="#8a191d" stroke-width="0.7" stroke-linejoin="round"/>
<path d="M103.0 970.0H111.1V996.5H103.0" fill="none" stroke="#1a1a1a" stroke-width="1.4"/>
<text transform="translate(98.70,984.70) scale(1.125,1)" text-anchor="end" font-size="19.3" font-weight="normal" font-style="normal" fill="#111" stroke="#111" stroke-width="0.3">1.2</text>
<text transform="translate(648.60,981.50) scale(1.07,1)" text-anchor="end" font-size="20.3" font-weight="normal" font-style="normal" fill="#111" stroke="#111" stroke-width="0.3">Boss</text>
<path d="M114.7 997.0L114.7 995.1L116.7 993.5L119.4 991.8L122.2 990.7L125.0 991.8L127.7 991.3L130.0 992.4L132.7 992.9L135.0 990.1L137.2 989.0L139.4 987.9L141.1 989.0L142.2 986.3L144.4 985.7L146.1 987.9L148.0 990.7L150.8 992.4L154.9 992.9L160.5 992.6L166.0 992.4L170.2 992.9L173.0 992.4L176.6 991.3L180.4 990.7L184.1 990.1L186.8 989.6L189.6 990.7L193.2 991.3L197.9 990.7L202.1 991.3L206.2 991.8L210.4 992.9L214.6 992.4L218.7 992.9L222.1 991.8L224.3 989.6L227.0 989.0L229.3 990.1L231.5 989.6L233.7 988.5L235.4 986.8L236.8 982.4L238.1 978.5L239.8 979.6L240.9 985.2L242.3 986.8L243.4 982.9L245.1 982.4L246.5 983.5L248.1 987.4L250.3 988.5L252.6 989.6L254.8 990.7L257.0 991.8L259.2 990.7L260.9 987.9L262.6 985.2L264.5 984.0L265.9 986.8L267.3 987.9L268.6 982.4L270.0 979.6L271.1 972.9L272.5 971.9L273.6 976.8L274.8 985.2L275.9 989.6L277.5 988.5L279.2 986.8L280.9 987.9L282.5 985.7L284.2 984.0L285.3 985.7L286.4 986.8L287.5 982.4L288.6 976.8L290.0 977.4L291.1 975.7L292.2 979.6L293.3 986.3L294.4 984.0L295.6 979.1L297.2 977.4L298.9 980.7L300.0 985.2L301.1 987.4L302.8 985.7L304.4 986.8L306.1 984.6L307.2 981.8L308.9 981.3L310.0 984.6L311.6 985.7L313.3 985.2L315.0 987.4L316.6 990.1L318.9 990.7L321.1 989.6L322.7 990.7L324.4 985.7L326.1 984.6L327.7 987.4L329.4 990.7L331.6 991.3L333.8 986.8L335.8 985.2L337.7 987.4L339.9 988.5L342.1 987.9L344.4 990.7L346.9 991.8L349.6 990.7L352.4 992.4L356.0 992.9L358.2 990.7L360.4 987.9L362.7 986.3L364.3 987.4L366.0 991.3L368.2 992.9L370.4 991.3L372.7 989.6L374.9 989.0L377.1 989.6L378.8 985.2L380.4 982.4L382.1 983.5L383.5 988.5L384.9 989.0L386.0 985.7L387.6 984.6L389.3 987.4L391.0 991.3L393.2 992.4L395.4 991.3L398.2 990.7L400.9 991.8L405.1 992.9L410.7 994.0L417.6 994.6L425.9 994.0L434.2 993.5L442.6 993.2L450.9 992.6L457.8 992.4L462.0 992.9L467.5 993.5L473.1 992.4L475.0 992.4L480.6 991.3L486.1 990.7L490.3 991.8L494.4 992.9L498.6 992.4L502.7 990.7L506.9 991.8L509.7 991.3L512.5 989.6L515.2 989.0L518.0 990.1L520.8 991.3L524.9 992.4L529.1 991.8L533.2 990.7L536.6 991.3L540.2 990.1L543.0 987.9L544.9 987.4L546.6 989.6L548.2 990.7L549.9 987.9L552.1 986.8L554.3 988.5L556.5 991.3L559.6 992.4L566.5 992.6L574.9 992.9L583.2 993.2L587.3 992.4L590.1 990.7L592.9 989.0L595.7 988.5L598.4 990.1L601.2 991.8L605.4 992.4L610.9 992.6L616.5 992.4L619.8 991.3L622.6 990.1L626.2 989.6L629.8 990.1L633.1 991.3L636.4 990.7L638.6 989.0L641.4 987.9L644.8 988.5L647.5 990.1L651.1 991.8L655.3 991.3L658.1 990.1L659.5 990.7L659.5 997.0Z" fill="#000" stroke="#000" stroke-width="0.7" stroke-linejoin="round"/>
<path d="M103.0 1004.0H111.1V1030.5H103.0" fill="none" stroke="#1a1a1a" stroke-width="1.4"/>
<text transform="translate(98.70,1018.46) scale(1.125,1)" text-anchor="end" font-size="19.3" font-weight="normal" font-style="normal" fill="#111" stroke="#111" stroke-width="0.3">1.2</text>
<text transform="translate(649.40,1015.80) scale(1.07,1)" text-anchor="end" font-size="20.3" font-weight="normal" font-style="normal" fill="#111" stroke="#111" stroke-width="0.3">Busslinger</text>
<path d="M114.7 1031.0L114.7 1028.9L116.1 1025.0L118.9 1023.9L130.5 1023.9L132.2 1026.1L135.5 1027.0L149.4 1027.0L163.2 1027.0L170.2 1026.7L174.3 1025.3L178.5 1024.8L185.4 1025.6L193.8 1026.4L202.1 1026.7L215.9 1026.7L218.2 1025.0L219.8 1021.7L221.5 1022.2L223.2 1019.5L225.4 1018.4L226.5 1021.7L227.6 1026.1L231.2 1026.7L234.3 1026.1L235.4 1016.1L237.0 1014.5L238.7 1016.1L239.8 1013.9L241.5 1014.5L242.6 1016.7L243.7 1015.0L244.8 1018.4L245.9 1024.5L247.6 1025.0L248.7 1021.1L250.3 1020.0L252.0 1022.8L253.7 1025.0L255.3 1023.4L257.0 1022.2L259.2 1024.5L260.9 1026.1L264.5 1026.7L267.3 1026.1L268.6 1021.1L270.3 1020.0L272.0 1021.7L273.6 1020.6L275.3 1021.7L276.4 1024.5L278.1 1023.4L279.2 1026.1L280.9 1026.7L282.5 1024.5L284.7 1023.9L287.0 1025.6L288.6 1026.7L290.0 1025.0L291.1 1021.7L292.8 1021.1L294.4 1023.9L296.7 1023.4L298.9 1023.9L301.1 1023.4L302.2 1017.3L303.9 1016.7L305.0 1023.4L306.6 1026.7L312.2 1027.0L320.5 1026.7L326.1 1026.1L327.2 1022.2L328.8 1021.1L330.5 1023.9L331.6 1026.7L334.9 1026.1L336.6 1018.9L338.3 1017.8L339.9 1021.1L341.0 1025.6L344.1 1026.1L346.9 1025.6L348.8 1024.5L351.0 1025.0L352.7 1026.1L353.5 1012.8L355.2 1011.7L356.3 1023.4L357.7 1025.0L359.9 1026.1L363.5 1026.7L366.0 1025.6L367.1 1006.7L369.3 1005.6L370.4 1020.6L371.6 1025.6L372.7 1022.2L374.3 1022.8L376.0 1024.5L378.8 1025.0L381.5 1025.6L384.3 1026.7L388.5 1026.1L389.6 1020.0L391.2 1019.5L392.6 1023.9L394.3 1026.7L396.8 1025.6L399.6 1024.5L402.3 1025.0L405.1 1026.7L408.7 1026.1L410.4 1021.7L412.0 1020.0L413.7 1022.2L415.4 1025.0L417.6 1024.5L419.8 1025.6L422.0 1027.2L428.7 1027.8L437.0 1027.5L441.2 1026.7L445.3 1026.4L450.9 1027.0L462.0 1027.2L473.1 1027.2L475.0 1027.2L491.6 1027.2L508.3 1027.0L516.6 1026.7L522.1 1026.1L529.1 1025.0L536.0 1024.2L543.0 1025.3L548.5 1026.4L558.2 1027.0L574.9 1027.2L591.5 1027.2L605.4 1027.0L612.3 1026.4L617.9 1025.6L623.4 1025.0L627.5 1025.9L631.7 1026.7L638.6 1026.7L641.4 1026.1L644.2 1027.0L652.5 1027.2L656.7 1026.7L658.1 1024.5L659.5 1023.9L659.5 1031.0Z" fill="#000" stroke="#000" stroke-width="0.7" stroke-linejoin="round"/>
<path d="M103.0 1038.0H111.1V1064.5H103.0" fill="none" stroke="#1a1a1a" stroke-width="1.4"/>
<text transform="translate(98.70,1052.22) scale(1.125,1)" text-anchor="end" font-size="19.3" font-weight="normal" font-style="normal" fill="#111" stroke="#111" stroke-width="0.3">1.2</text>
<text transform="translate(648.60,1051.30) scale(1.07,1)" text-anchor="end" font-size="20.3" font-weight="normal" font-style="normal" fill="#111" stroke="#111" stroke-width="0.3">Dillon</text>
<path d="M114.7 1065.1L114.7 1060.0L116.7 1058.9L118.9 1061.1L121.6 1061.6L124.4 1060.5L128.6 1061.1L132.7 1060.5L136.1 1061.6L138.8 1063.3L141.1 1060.5L143.3 1057.2L145.5 1056.7L147.7 1058.9L149.9 1060.5L152.7 1059.4L155.5 1058.3L158.3 1058.9L161.0 1060.0L164.4 1058.9L167.7 1058.3L171.0 1060.0L174.3 1061.1L177.7 1060.5L179.9 1058.9L182.1 1057.2L184.9 1056.7L187.7 1057.8L190.4 1057.2L192.7 1058.3L194.3 1055.5L196.0 1052.8L198.2 1051.7L199.9 1053.3L201.5 1056.7L203.7 1057.8L206.0 1058.9L208.7 1060.0L211.0 1061.1L212.6 1057.8L214.3 1055.0L215.9 1055.5L217.6 1051.7L219.3 1047.8L220.9 1046.7L222.6 1049.4L224.3 1051.1L225.9 1050.0L227.6 1043.9L229.3 1040.0L230.9 1039.5L232.6 1042.8L234.3 1044.4L235.9 1046.7L237.6 1049.4L239.2 1047.2L240.9 1048.3L242.0 1043.9L243.1 1041.1L244.8 1040.6L245.9 1045.6L247.0 1048.9L248.1 1041.7L249.2 1037.8L250.9 1038.3L252.0 1045.6L253.7 1047.2L255.3 1043.9L257.0 1042.2L258.1 1043.9L259.2 1049.4L260.3 1052.8L262.0 1060.5L263.1 1056.7L264.2 1049.4L265.9 1045.0L268.1 1044.4L269.8 1047.8L270.9 1045.0L272.0 1039.5L273.6 1037.8L274.8 1042.8L275.9 1050.0L277.5 1052.8L279.2 1049.4L281.4 1048.3L283.1 1050.0L284.7 1048.9L286.4 1050.0L287.5 1047.2L289.2 1046.7L290.0 1047.8L292.2 1049.4L294.4 1051.1L296.7 1052.8L298.9 1053.9L301.1 1055.5L303.3 1057.2L305.5 1056.7L307.2 1051.7L308.9 1049.4L310.5 1050.0L312.2 1055.0L313.9 1057.2L315.5 1055.5L317.2 1055.0L318.9 1057.8L320.5 1053.9L322.2 1047.8L323.8 1046.1L325.5 1047.8L327.2 1053.9L328.3 1048.3L329.9 1044.4L331.6 1044.4L333.3 1051.1L334.9 1056.1L337.1 1055.0L339.4 1054.4L341.6 1055.0L343.8 1057.2L346.0 1059.4L348.2 1057.2L350.5 1052.8L352.7 1049.4L354.9 1048.3L356.6 1050.6L358.2 1055.0L359.9 1053.9L361.6 1055.0L363.2 1058.3L365.4 1057.2L367.1 1055.0L368.8 1053.9L370.4 1055.0L372.1 1057.2L373.8 1053.9L375.4 1050.0L377.6 1048.3L379.3 1049.4L381.0 1053.9L382.6 1055.0L384.3 1051.1L386.0 1047.8L387.6 1048.3L389.3 1053.9L391.0 1057.8L393.2 1059.4L395.4 1060.5L397.6 1058.9L399.8 1055.5L402.1 1054.4L404.3 1056.1L406.5 1059.4L408.7 1058.3L410.9 1057.2L413.1 1057.8L415.4 1056.1L417.0 1052.8L418.7 1052.2L420.4 1055.0L422.0 1060.0L424.2 1062.2L426.5 1061.1L428.7 1059.4L430.9 1060.0L433.1 1058.3L435.3 1057.8L437.6 1059.4L439.8 1060.5L442.6 1061.1L445.3 1060.5L448.7 1060.0L452.0 1059.4L455.3 1060.5L459.2 1061.1L463.4 1060.5L467.5 1061.1L471.7 1061.6L475.0 1061.1L477.8 1059.4L480.0 1057.8L482.2 1058.9L484.4 1061.1L487.5 1061.6L491.1 1060.5L494.4 1061.1L498.6 1060.0L502.2 1058.9L505.5 1059.4L508.8 1058.9L512.5 1060.0L516.6 1060.5L520.8 1060.0L524.9 1059.4L529.1 1060.5L532.7 1060.0L534.6 1057.8L536.9 1056.7L539.1 1057.8L541.0 1060.5L545.7 1061.1L551.3 1060.5L558.2 1061.1L566.5 1061.4L574.9 1061.1L583.2 1061.6L591.5 1061.4L599.8 1061.1L608.1 1061.6L616.5 1061.1L622.0 1060.0L626.2 1059.4L630.3 1060.5L635.9 1061.1L641.4 1060.5L647.0 1061.1L652.5 1060.5L654.7 1058.3L657.0 1057.2L658.6 1059.4L659.5 1061.1L659.5 1065.1Z" fill="#000" stroke="#000" stroke-width="0.7" stroke-linejoin="round"/>
<path d="M103.0 1072.1H111.1V1098.6H103.0" fill="none" stroke="#1a1a1a" stroke-width="1.4"/>
<text transform="translate(98.70,1085.98) scale(1.125,1)" text-anchor="end" font-size="19.3" font-weight="normal" font-style="normal" fill="#111" stroke="#111" stroke-width="0.3">1.2</text>
<text transform="translate(641.20,1083.50) scale(1.07,1)" text-anchor="end" font-size="20.3" font-weight="normal" font-style="normal" fill="#111" stroke="#111" stroke-width="0.3">Pb</text>
<path d="M114.7 1099.1L114.7 1094.9L116.7 1093.3L118.3 1094.4L120.0 1092.2L121.6 1091.0L123.3 1093.3L125.0 1094.4L127.2 1093.3L129.4 1092.7L131.6 1094.4L133.8 1095.5L136.1 1094.4L138.3 1092.7L140.5 1091.6L142.7 1092.7L144.9 1092.2L147.2 1093.3L149.4 1092.2L151.6 1093.8L153.8 1092.7L156.0 1091.6L158.3 1092.2L160.5 1094.4L163.2 1095.5L166.6 1096.0L170.2 1094.9L173.0 1094.4L175.7 1095.5L178.5 1094.9L181.3 1095.5L184.1 1094.4L186.8 1094.9L189.6 1096.0L192.4 1096.6L195.2 1095.5L197.9 1094.9L200.7 1096.0L203.5 1097.1L207.1 1096.0L210.4 1094.9L214.6 1095.5L218.7 1094.9L222.9 1094.4L225.7 1093.3L228.4 1092.7L231.2 1094.4L235.4 1094.9L239.5 1094.4L243.7 1095.5L247.8 1094.9L252.0 1094.4L256.2 1093.8L260.3 1094.9L264.5 1095.5L268.6 1094.4L272.8 1094.9L277.0 1094.4L281.1 1093.3L285.3 1094.4L289.4 1093.8L290.0 1094.9L292.8 1095.5L295.6 1094.4L298.3 1095.5L301.1 1094.4L303.9 1095.5L306.6 1094.9L309.4 1094.4L312.2 1093.3L315.0 1093.8L317.7 1095.5L321.1 1094.9L323.8 1093.8L326.6 1093.3L329.4 1094.4L332.2 1095.5L335.8 1096.0L338.5 1094.4L340.5 1093.3L342.7 1094.4L344.9 1096.0L347.7 1096.6L350.5 1094.9L353.2 1094.4L356.0 1095.5L358.2 1094.4L360.4 1092.7L362.7 1093.3L364.9 1092.2L367.1 1093.3L369.3 1094.4L371.6 1092.7L373.8 1093.8L376.0 1094.4L377.6 1091.6L379.3 1090.5L381.0 1092.7L383.2 1094.4L386.0 1094.9L389.3 1094.4L392.6 1095.5L396.8 1096.0L400.9 1095.5L406.5 1094.9L412.0 1095.5L417.6 1096.0L421.8 1094.9L425.9 1094.4L430.1 1094.9L434.2 1095.5L438.4 1096.0L442.6 1095.5L446.7 1094.4L450.9 1095.5L455.0 1096.0L458.6 1094.9L461.4 1093.3L464.2 1092.2L467.0 1093.3L469.7 1094.9L473.1 1095.5L475.0 1096.0L479.2 1094.9L483.3 1093.8L487.5 1094.4L491.6 1095.5L494.4 1093.8L496.1 1091.0L498.3 1090.5L500.0 1093.3L502.2 1094.9L504.4 1092.7L506.6 1092.2L508.8 1094.4L512.5 1095.5L516.0 1094.4L518.8 1093.3L521.6 1094.4L524.9 1095.5L529.1 1094.9L533.2 1094.4L537.4 1094.9L541.6 1094.4L545.7 1093.8L549.9 1094.9L554.0 1095.5L557.7 1094.4L560.4 1092.2L562.6 1090.5L564.9 1091.6L567.1 1093.8L570.7 1094.9L574.9 1095.5L579.0 1094.9L583.2 1094.4L587.3 1094.9L591.5 1095.5L595.7 1094.9L599.8 1094.4L604.0 1095.5L608.1 1094.9L612.3 1094.4L616.5 1094.9L620.6 1095.5L624.8 1094.4L628.9 1093.8L633.1 1094.9L637.3 1094.4L641.4 1094.9L645.6 1093.8L649.7 1092.7L653.9 1093.8L656.7 1092.7L658.6 1090.5L659.5 1089.9L659.5 1099.1Z" fill="#000" stroke="#000" stroke-width="0.7" stroke-linejoin="round"/>
<path d="M115.0 1111.0V1101.8H659.4V1111.0" fill="none" stroke="#2a2a2a" stroke-width="1.4"/>
<text transform="translate(403.10,1123.70) scale(1.121,1)" text-anchor="middle" font-size="19.3" font-weight="normal" font-style="normal" fill="#111" stroke="#111" stroke-width="0.3">chr14:79705000–79685000</text>
<text transform="translate(43.70,874.70) rotate(-90) scale(1,1)" text-anchor="middle" font-size="21.8" font-weight="normal" font-style="normal" fill="#111" stroke="#111" stroke-width="0.3">ATAC rppm</text>
<text transform="translate(17.90,1022.80) rotate(-90) scale(1,1)" text-anchor="middle" font-size="21.5" font-weight="normal" font-style="normal" fill="#111" stroke="#111" stroke-width="0.3">H3K27me3</text>
<text transform="translate(43.60,1022.80) rotate(-90) scale(1,1)" text-anchor="middle" font-size="21.5" font-weight="normal" font-style="normal" fill="#111" stroke="#111" stroke-width="0.3">rppm</text>
<path d="M664.7 970.6V1066.6" stroke="#000" stroke-width="2.3" fill="none"/>
<text transform="translate(683.70,1014.50) rotate(-90) scale(1,1)" text-anchor="middle" font-size="21.7" font-weight="normal" font-style="normal" fill="#111" stroke="#111" stroke-width="0.3">B cell</text>
<g fill="#000" stroke="none">
<rect x="176" y="390.05" width="388.0" height="1.9"/>
<rect x="175.4" y="384.60" width="3.4" height="12.8"/>
<rect x="208.0" y="384.60" width="3.6" height="12.8"/>
<rect x="327.9" y="384.60" width="1.5" height="12.8"/>
<rect x="385.6" y="384.60" width="4.2" height="12.8"/>
<rect x="473.7" y="384.60" width="19.6" height="12.8"/>
<rect x="498.0" y="384.60" width="2.9" height="12.8"/>
<rect x="508.5" y="384.60" width="55.4" height="12.8"/>
<path d="M175.4 391.0V380.85H194.0V382.75H177.0V391.0Z"/>
<path d="M206.3 381.8L187.6 373.8L192.9 381.8L188.7 388.6Z"/>
</g>
<text transform="translate(95.60,396.20) scale(1.0,1)" text-anchor="start" font-size="22.8" font-weight="normal" font-style="italic" fill="#111" stroke="#111" stroke-width="0.3">Prdm1</text>
<g fill="#000" stroke="none">
<rect x="212" y="779.55" width="341.0" height="1.9"/>
<rect x="211.7" y="774.10" width="5.3" height="12.8"/>
<rect x="231.4" y="774.10" width="5.1" height="12.8"/>
<rect x="479.5" y="774.10" width="2.9" height="12.8"/>
<rect x="519.8" y="774.10" width="1.3" height="12.8"/>
<rect x="552.4" y="774.10" width="9.5" height="12.8"/>
<path d="M211.7 780.5V766.85H225.0V768.95H213.6V780.5Z"/>
<path d="M238.5 768.2L218.4 760.3L224.0 768.2L220.0 774.9Z"/>
</g>
<text transform="translate(145.60,785.60) scale(1.0,1)" text-anchor="start" font-size="22.8" font-weight="normal" font-style="italic" fill="#111" stroke="#111" stroke-width="0.3">Rgcc</text>
</g>
</svg>
</body></html>
